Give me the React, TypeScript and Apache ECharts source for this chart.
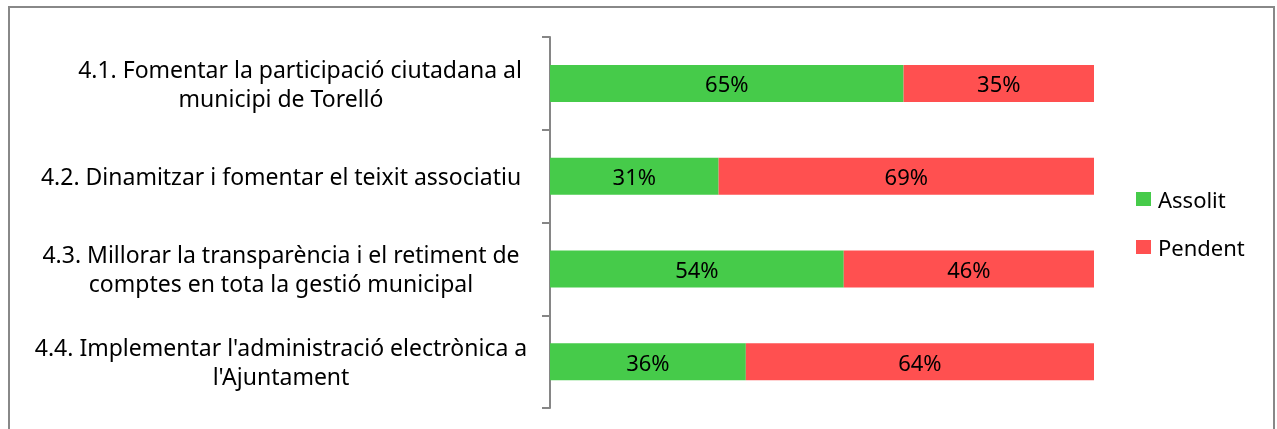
import React, { useEffect, useRef } from "react";
import * as echarts from "echarts";

const categories = [
  "4.1. Fomentar la participació ciutadana al\nmunicipi de Torelló",
  "4.2. Dinamitzar i fomentar el teixit associatiu",
  "4.3. Millorar la transparència i el retiment de\ncomptes en tota la gestió municipal",
  "4.4. Implementar l'administració electrònica a\nl'Ajuntament",
];
const assolit = [65, 31, 54, 36];
const pendent = [35, 69, 46, 64];

const FONT = "Noto Sans";

export default function App() {
  const ref = useRef<HTMLDivElement>(null);
  useEffect(() => {
    if (!ref.current) return;
    const chart = echarts.init(ref.current, null, { renderer: "svg" });
    const barLabel = {
      show: true,
      position: "inside",
      formatter: "{c}%",
      fontSize: 22,
      color: "#000",
      fontFamily: FONT,
    };
    chart.setOption({
      animation: false,
      textStyle: { fontFamily: FONT },
      graphic: [
        {
          type: "rect",
          shape: { x: 9, y: 7, width: 1265, height: 440 },
          style: { fill: "none", stroke: "#888888", lineWidth: 2 },
          silent: true,
        },
      ],
      legend: {
        orient: "vertical",
        left: 1131,
        top: 183,
        itemWidth: 15,
        itemHeight: 14,
        itemGap: 26,
        icon: "rect",
        textStyle: {
          fontSize: 22,
          color: "#000",
          fontFamily: FONT,
          padding: [0, 0, 0, 2],
        },
        data: ["Assolit", "Pendent"],
      },
      grid: { left: 550, top: 37, width: 544, height: 371 },
      xAxis: {
        type: "value",
        min: 0,
        max: 100,
        show: false,
      },
      yAxis: {
        type: "category",
        inverse: true,
        data: categories,
        axisLine: { show: true, lineStyle: { color: "#868686", width: 2 } },
        axisTick: {
          show: true,
          length: 8,
          lineStyle: { color: "#868686", width: 2 },
        },
        axisLabel: {
          fontSize: 23,
          color: "#000",
          fontFamily: FONT,
          align: "center",
          lineHeight: 29,
          margin: 269,
          formatter: (v: string, i: number) => {
            const lines = v.split("\n");
            if (i === 0) {
              return "{s|" + lines[0] + "}\n" + lines.slice(1).join("\n");
            }
            return v;
          },
          rich: {
            s: {
              fontSize: 23,
              fontFamily: FONT,
              color: "#000",
              lineHeight: 29,
              padding: [0, 0, 0, 38],
            },
          },
        },
      },
      series: [
        {
          name: "Assolit",
          type: "bar",
          stack: "t",
          barWidth: 37,
          color: "#46CB4A",
          data: assolit,
          label: barLabel,
        },
        {
          name: "Pendent",
          type: "bar",
          stack: "t",
          barWidth: 37,
          color: "#C0504D",
          itemStyle: { color: "#FF5050" },
          data: pendent,
          label: barLabel,
        },
      ],
    });
    return () => chart.dispose();
  }, []);
  return (
    <div
      ref={ref}
      style={{ position: "fixed", left: 0, top: 0, width: 1277, height: 429 }}
    />
  );
}
